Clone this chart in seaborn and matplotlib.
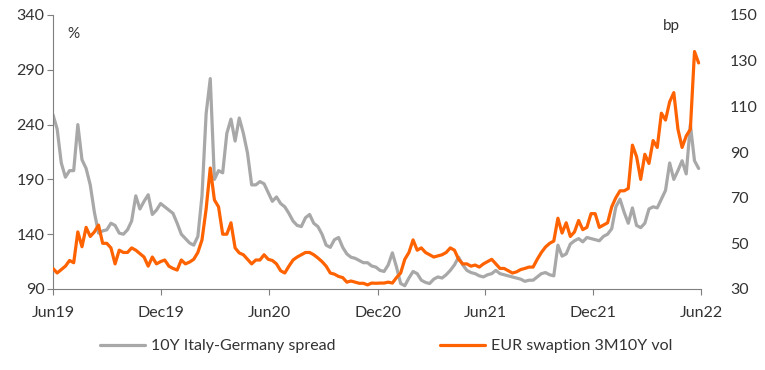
import pandas as pd
import numpy as np
import matplotlib
matplotlib.use("Agg")
import matplotlib.pyplot as plt
import matplotlib.dates as mdates
import seaborn as sns

# weekly observations starting 1 Jun 2019
START = "2019-06-01"

# 10Y Italy-Germany spread (left axis)
spread = [
    249, 236, 205, 192, 198, 198, 240, 208, 200, 185,
    160, 141, 143, 144, 150, 148, 141, 140, 144, 152,
    175, 163, 170, 176, 158, 162, 168, 165, 162, 159,
    150, 140, 136, 132, 130, 138, 175, 250, 282, 190,
    198, 196, 232, 245, 225, 246, 232, 214, 185, 185,
    188, 186, 178, 170, 174, 168, 165, 159, 152, 148,
    147, 155, 158, 150, 147, 140, 130, 128, 135, 137,
    128, 122, 119, 118, 116, 114, 114, 111, 110, 107,
    106, 112, 123, 110, 95, 93, 100, 106, 104, 98,
    96, 95, 99, 101, 100, 103, 107, 112, 119, 112,
    107, 105, 104, 102, 101, 103, 104, 107, 104, 103,
    102, 101, 100, 99, 97, 98, 98, 101, 104, 105,
    103, 102, 130, 120, 122, 131, 134, 136, 133, 137,
    136, 135, 134, 138, 140, 145, 165, 172, 160, 150,
    164, 148, 146, 150, 163, 165, 164, 172, 180, 205,
    190, 198, 207, 195, 240, 207, 200,
]

# EUR swaption 3M10Y vol (right axis)
swaption_vol = [
    39, 37, 38.5, 40, 42.5, 41.5, 55, 48.5, 57, 53,
    55, 58, 50, 50, 48, 41, 47, 46, 46, 48,
    47, 45.5, 44, 40, 44, 41, 42, 42.7, 40, 39,
    38.3, 42.7, 41, 41.8, 43, 46, 51.5, 65, 83, 69,
    66, 54, 54, 59, 48, 45.8, 45, 43, 41, 42.7,
    42.7, 45, 43, 42.5, 41, 38, 37, 40, 42.7, 44,
    45, 46, 46, 45, 43.6, 42, 40, 37, 36.5, 35.5,
    35, 33, 33.5, 33, 32.5, 32.5, 31.8, 32.6, 32.5, 32.6,
    32.6, 33, 32.6, 35, 37, 43, 46, 51.5, 47, 48,
    46, 45, 44, 44.5, 45, 46, 48, 47, 43, 41,
    41, 40, 40.5, 39.6, 41, 42, 43, 41, 39, 39,
    38, 37, 37.5, 38.5, 39, 39.6, 39.6, 43, 46, 48.4,
    50, 51, 61, 54.5, 59, 53, 55, 60, 56, 57,
    63, 63, 57, 58, 59, 66, 70, 73, 73, 74,
    93, 88, 78, 89, 85, 95, 92, 107, 104, 112,
    116, 100, 92, 97, 100, 134, 129,
]

dates = pd.date_range(START, periods=len(spread), freq="7D")
df = pd.DataFrame({"date": dates, "spread": spread, "vol": swaption_vol})

GREY = "#A8A8A8"
ORANGE = "#FF6200"
TXT = "#333333"

sns.set_style("white")
plt.rcParams["font.family"] = ["Lato", "DejaVu Sans"]

fig = plt.figure(figsize=(7.65, 3.7), dpi=100)
ax = fig.add_axes([53 / 765, 1 - 289 / 370, 648 / 765, 274 / 370])
ax2 = ax.twinx()

sns.lineplot(data=df, x="date", y="spread", ax=ax, color=GREY, lw=2.3,
             label="10Y Italy-Germany spread", legend=False)
sns.lineplot(data=df, x="date", y="vol", ax=ax2, color=ORANGE, lw=2.3,
             label="EUR swaption 3M10Y vol", legend=False)

ax.set_xlim(pd.Timestamp("2019-06-01"), pd.Timestamp("2022-06-01"))
ax.set_ylim(90, 340)
ax.set_yticks(range(90, 341, 50))
ax2.set_ylim(30, 150)
ax2.set_yticks(range(30, 151, 20))

ax.xaxis.set_major_locator(mdates.MonthLocator(bymonth=[6, 12]))
ax.xaxis.set_major_formatter(mdates.DateFormatter("%b%y"))

for a in (ax, ax2):
    a.set_xlabel("")
    a.set_ylabel("")
    for s in a.spines.values():
        s.set_visible(False)

ax.spines["left"].set_visible(True)
ax.spines["bottom"].set_visible(True)
ax.spines["left"].set_color("#7F7F7F")
ax.spines["bottom"].set_color("#7F7F7F")
ax.tick_params(axis="both", which="major", labelsize=11.5, colors=TXT,
               length=4, width=0.8, direction="out", color="#7F7F7F")
ax.tick_params(axis="y", left=True, pad=2)
ax.tick_params(axis="x", bottom=True, pad=8)
ax2.tick_params(axis="y", labelsize=11.5, colors=TXT, length=0, pad=21)

ax.text(0.022, 0.915, "%", transform=ax.transAxes, fontsize=11, color=TXT)
ax2.text(0.955, 0.945, "bp", transform=ax2.transAxes, fontsize=11, color=TXT,
         ha="center")

h1, l1 = ax.get_legend_handles_labels()
h2, l2 = ax2.get_legend_handles_labels()
fig.legend(h1 + h2, l1 + l2, loc="center", bbox_to_anchor=(0.505, 1 - 346 / 370),
           ncol=2, frameon=False, fontsize=11.5, handlelength=2.8,
           columnspacing=6.5, handletextpad=0.4, labelcolor=TXT)

fig.savefig("out.png", dpi=100)
